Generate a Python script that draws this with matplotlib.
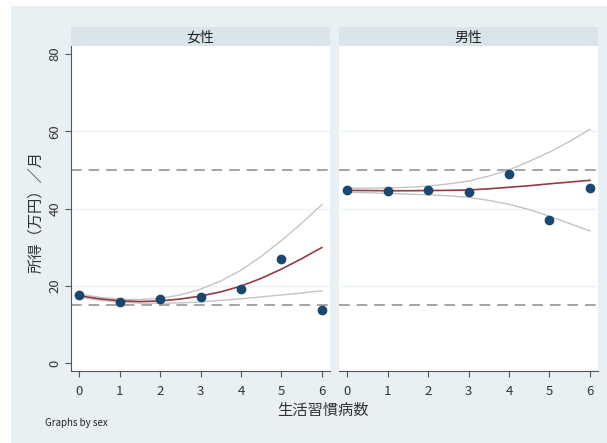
import numpy as np
import matplotlib
matplotlib.use("Agg")
import matplotlib.pyplot as plt
from matplotlib.patches import Rectangle

plt.rcParams['font.family'] = ['Noto Sans CJK JP', 'DejaVu Sans']

# data
panels = ['女性', '男性']
x_pts = [0, 1, 2, 3, 4, 5, 6]
y_female = [17.5, 15.9, 16.6, 17.0, 19.2, 26.8, 13.8]
y_male = [44.9, 44.5, 44.8, 44.2, 48.9, 37.1, 45.2]

x_fit = [0, 0.5, 1, 1.5, 2, 2.5, 3, 3.5, 4, 4.5, 5, 5.5, 6]
fit_female = [17.4, 16.6, 16.1, 15.9, 16.05, 16.55, 17.3, 18.4, 19.9, 21.9, 24.3, 27.0, 29.9]
lo_female = [17.0, 16.25, 15.75, 15.5, 15.45, 15.55, 15.8, 16.2, 16.6, 17.1, 17.6, 18.1, 18.7]
hi_female = [17.8, 17.0, 16.5, 16.4, 16.75, 17.6, 19.1, 21.2, 24.0, 27.6, 31.7, 36.2, 41.0]
fit_male = [44.7, 44.65, 44.6, 44.6, 44.65, 44.7, 44.8, 45.1, 45.5, 45.9, 46.4, 46.85, 47.3]
lo_male = [44.2, 44.1, 43.9, 43.75, 43.55, 43.3, 42.9, 42.1, 41.1, 39.7, 38.0, 36.1, 34.2]
hi_male = [45.3, 45.25, 45.3, 45.5, 45.8, 46.35, 47.1, 48.4, 50.0, 52.2, 54.6, 57.4, 60.5]
ref_lines = [50, 15]
yticks = [0, 20, 40, 60, 80]

W, H = 607, 443
fig = plt.figure(figsize=(W / 100, H / 100), dpi=100, facecolor='white')
fig.patches.append(Rectangle((11 / W, 0), 1 - 11 / W, 1 - 6 / H, transform=fig.transFigure,
                             facecolor='#e9f0f3', edgecolor='none', zorder=-5))

strip_col = '#d9e5eb'
series = [(y_female, fit_female, lo_female, hi_female),
          (y_male, fit_male, lo_male, hi_male)]
lefts = [71, 339]
for i, (name, (ys, fit, lo, hi)) in enumerate(zip(panels, series)):
    x0 = lefts[i]
    ax = fig.add_axes([x0 / W, 1 - 371 / H, 259 / W, 325 / H])
    ax.set_facecolor('white')
    ax.set_xlim(-0.2, 6.2)
    ax.set_ylim(-2.1, 82.1)
    for g in [20, 40, 60]:
        ax.axhline(g, color='#eef4f5', lw=1.0, zorder=1)
    for r in ref_lines:
        ax.axhline(r, color='#8c8c8c', lw=1.1, ls=(0, (7, 4.5)), zorder=2)
    ax.plot(x_fit, hi, color='#c4c4c4', lw=1.0, zorder=3)
    ax.plot(x_fit, lo, color='#c4c4c4', lw=1.0, zorder=3)
    ax.plot(x_fit, fit, color='#963a44', lw=1.2, zorder=4)
    ax.plot(x_pts, ys, 'o', color='#1a476f', ms=6, zorder=5)
    ax.set_xticks(x_pts)
    ax.set_yticks(yticks)
    for s in ['top', 'right']:
        ax.spines[s].set_visible(False)
    ax.spines['bottom'].set_color('#555555')
    ax.spines['left'].set_color('#555555')
    ax.tick_params(colors='#555555', labelcolor='#333333', labelsize=9.5, length=4)
    ax.tick_params(axis='x', pad=6)
    ax.tick_params(axis='y', pad=3)
    if i == 0:
        for lab in ax.get_yticklabels():
            lab.set_rotation(90)
            lab.set_va('center')
    else:
        ax.spines['left'].set_visible(False)
        ax.tick_params(axis='y', left=False, labelleft=False)
    sax = fig.add_axes([x0 / W, 1 - 46 / H, 259 / W, 19 / H])
    sax.set_facecolor(strip_col)
    sax.set_xticks([])
    sax.set_yticks([])
    for s in sax.spines.values():
        s.set_visible(False)
    sax.text(0.5, 0.45, name, ha='center', va='center', fontsize=10, color='#222222')

fig.text(36 / W, 1 - 212 / H, '所得（万円）／月', rotation=90, ha='center', va='center',
         fontsize=11, color='#333333')
fig.text(323 / W, 1 - 410 / H, '生活習慣病数', ha='center', va='center', fontsize=11, color='#333333')
fig.text(45 / W, 1 - 423 / H, 'Graphs by sex', ha='left', va='center', fontsize=7, color='#222222')

fig.savefig('out.png', dpi=100, facecolor='white')
